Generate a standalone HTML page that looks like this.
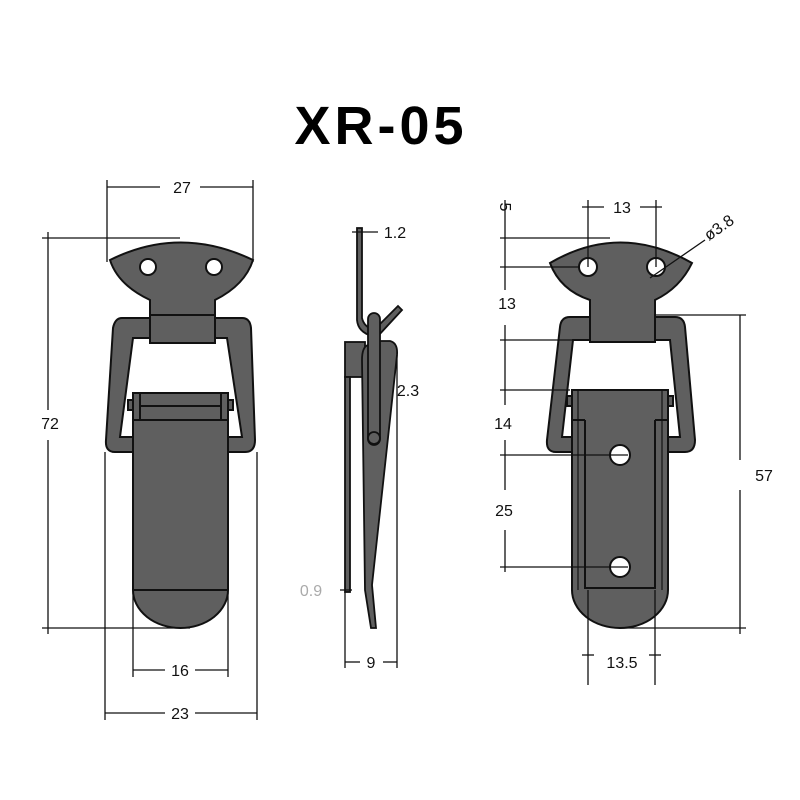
<!DOCTYPE html>
<html><head><style>body{margin:0;background:#fff}svg{display:block}</style></head><body>
<svg width="800" height="800" viewBox="0 0 800 800" xmlns="http://www.w3.org/2000/svg" font-family="Liberation Sans, sans-serif">
<rect width="800" height="800" fill="#fff"/>
<text x="381" y="144" font-size="54" font-weight="bold" text-anchor="middle" letter-spacing="4">XR-05</text>

<g fill="#5f5f5f" stroke="#111" stroke-width="2">
<!-- LEFT VIEW -->
<path d="M122,318 L242,318 Q250,318 251,328 L255,440 Q255,452 245,452 L228,452 L228,437 L242,437 L227,338 L133,338 L120,437 L133,437 L133,452 L115,452 Q105,452 106,440 L113,328 Q115,318 122,318 Z"/>
<path d="M110,260 Q180,225 253,260 Q245,285 215,300 L215,343 L150,343 L150,300 Q118,285 110,260 Z"/>
<line x1="150" y1="315" x2="215" y2="315"/>
<circle cx="148" cy="267" r="8" fill="#fff"/><circle cx="214" cy="267" r="8" fill="#fff"/>
<rect x="128" y="400" width="105" height="10"/>
<rect x="133" y="393" width="95" height="27"/>
<line x1="140" y1="393" x2="140" y2="420"/><line x1="221" y1="393" x2="221" y2="420"/>
<line x1="140" y1="406" x2="221" y2="406"/>
<path d="M133,420 L228,420 L228,590 A47.5,38 0 0 1 133,590 Z"/>
<line x1="133" y1="590" x2="228" y2="590"/>
</g>
<g stroke="#fff" stroke-width="1.5"><line x1="148" y1="260" x2="148" y2="274"/><line x1="141" y1="267" x2="155" y2="267"/><line x1="214" y1="260" x2="214" y2="274"/><line x1="207" y1="267" x2="221" y2="267"/></g>

<!-- SIDE VIEW -->
<g fill="#5f5f5f" stroke="#111" stroke-width="1.8">
<path d="M357,228 L362,228 L362,318 Q364,327 374,330 L372,336 Q358,332 357,320 Z"/>
<path d="M374,330 L398,306 L402,310 L378,336 Z"/>
<rect x="345" y="342" width="20" height="35"/>
<rect x="345" y="377" width="5" height="215"/>
<path d="M368,345 Q372,341 380,341 L390,341 Q398,343 397,355 L372,585 L376,628 L371,628 L365,590 L362,360 Q362,347 368,345 Z"/>
<rect x="368" y="313" width="12" height="132" rx="6"/>
<circle cx="374" cy="438" r="6"/>
</g>

<!-- RIGHT VIEW -->
<g fill="#5f5f5f" stroke="#111" stroke-width="2">
<path d="M570,317 L675,317 Q684,317 685,327 L695,440 Q695,452 685,452 L668,452 L668,437 L680,437 L670,340 L573,340 L562,437 L572,437 L572,452 L556,452 Q546,452 547,440 L560,327 Q561,317 570,317 Z"/>
<path d="M550,263 Q620,222 692,263 Q680,288 655,300 L655,342 L590,342 L590,300 Q560,290 550,263 Z"/>
<circle cx="588" cy="267" r="9" fill="#fff"/><circle cx="656" cy="267" r="9" fill="#fff"/>
<rect x="567" y="396" width="106" height="10"/>
<path d="M572,390 L668,390 L668,590 A48,38 0 0 1 572,590 Z"/>
<path d="M585,420 L585,588 L655,588 L655,420" fill="none"/>
<line x1="572" y1="420" x2="585" y2="420"/><line x1="655" y1="420" x2="668" y2="420"/>
<line x1="578" y1="390" x2="578" y2="590" stroke-width="1.2"/><line x1="662" y1="390" x2="662" y2="590" stroke-width="1.2"/>
<circle cx="620" cy="455" r="10" fill="#fff"/><circle cx="620" cy="567" r="10" fill="#fff"/>
</g>

<!-- DIMENSION LINES -->
<g stroke="#111" stroke-width="1.3" fill="none">
<line x1="107" y1="180" x2="107" y2="262"/><line x1="253" y1="180" x2="253" y2="262"/>
<line x1="107" y1="187" x2="160" y2="187"/><line x1="200" y1="187" x2="253" y2="187"/>
<line x1="42" y1="238" x2="180" y2="238"/><line x1="42" y1="628" x2="190" y2="628"/>
<line x1="48" y1="232" x2="48" y2="410"/><line x1="48" y1="440" x2="48" y2="634"/>
<line x1="133" y1="590" x2="133" y2="677"/><line x1="228" y1="590" x2="228" y2="677"/>
<line x1="133" y1="670" x2="165" y2="670"/><line x1="195" y1="670" x2="228" y2="670"/>
<line x1="105" y1="452" x2="105" y2="720"/><line x1="257" y1="452" x2="257" y2="720"/>
<line x1="105" y1="713" x2="165" y2="713"/><line x1="195" y1="713" x2="257" y2="713"/>
<line x1="345" y1="592" x2="345" y2="668"/><line x1="397" y1="355" x2="397" y2="668"/>
<line x1="345" y1="662" x2="360" y2="662"/><line x1="383" y1="662" x2="397" y2="662"/>
<line x1="352" y1="232" x2="378" y2="232"/>
<line x1="340" y1="590" x2="352" y2="590"/>
<line x1="588" y1="200" x2="588" y2="267"/><line x1="656" y1="200" x2="656" y2="267"/>
<line x1="582" y1="207" x2="604" y2="207"/><line x1="640" y1="207" x2="662" y2="207"/>
<line x1="505" y1="200" x2="505" y2="290"/><line x1="505" y1="325" x2="505" y2="405"/><line x1="505" y1="440" x2="505" y2="490"/><line x1="505" y1="530" x2="505" y2="572"/>
<line x1="500" y1="238" x2="610" y2="238"/><line x1="500" y1="267" x2="580" y2="267"/>
<line x1="500" y1="340" x2="580" y2="340"/><line x1="500" y1="390" x2="570" y2="390"/>
<line x1="500" y1="455" x2="628" y2="455"/><line x1="500" y1="567" x2="628" y2="567"/>
<line x1="650" y1="278" x2="705" y2="240"/>
<line x1="655" y1="315" x2="746" y2="315"/><line x1="620" y1="628" x2="746" y2="628"/>
<line x1="740" y1="315" x2="740" y2="460"/><line x1="740" y1="490" x2="740" y2="634"/>
<line x1="588" y1="590" x2="588" y2="685"/><line x1="655" y1="590" x2="655" y2="685"/>
<line x1="582" y1="655" x2="594" y2="655"/><line x1="649" y1="655" x2="661" y2="655"/>
</g>

<g font-size="16" fill="#111" text-anchor="middle">
<text x="182" y="193">27</text>
<text x="50" y="429">72</text>
<text x="180" y="676">16</text>
<text x="180" y="719">23</text>
<text x="395" y="238">1.2</text>
<text x="408" y="396">2.3</text>
<text x="311" y="596" fill="#aaa">0.9</text>
<text x="371" y="668">9</text>
<text x="622" y="213">13</text>
<text x="505" y="212" transform="rotate(90 505 207)">5</text>
<text x="507" y="309">13</text>
<text x="503" y="429">14</text>
<text x="504" y="516">25</text>
<text x="764" y="481">57</text>
<text x="622" y="668">13.5</text>
<text x="722" y="232" transform="rotate(-35 722 232)">ø3.8</text>
</g>
</svg>
</body></html>
